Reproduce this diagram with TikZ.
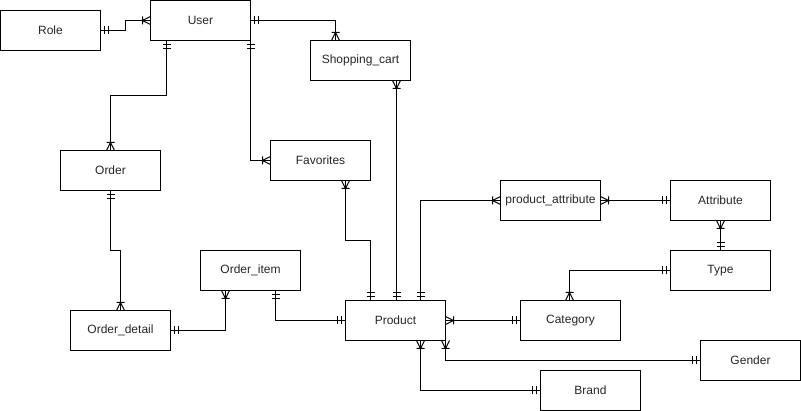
\documentclass[tikz,border=0pt]{standalone}
\usepackage{fontspec}
\setmainfont{Liberation Sans}

% ER end marks: two bars (exactly one) and crow's foot with bar (one or many)
\pgfdeclarearrow{
    name = ERone,
    setup code = {
        \pgfarrowssettipend{0pt}
        \pgfarrowssetlineend{0pt}
        \pgfarrowssetbackend{-9pt}
        \pgfarrowshullpoint{0pt}{4pt}
        \pgfarrowshullpoint{-9pt}{-4pt}
    },
    drawing code = {
        \pgfpathmoveto{\pgfqpoint{-4pt}{-4pt}}
        \pgfpathlineto{\pgfqpoint{-4pt}{4pt}}
        \pgfpathmoveto{\pgfqpoint{-8pt}{-4pt}}
        \pgfpathlineto{\pgfqpoint{-8pt}{4pt}}
        \pgfusepathqstroke
    }
}
\pgfdeclarearrow{
    name = ERmany,
    setup code = {
        \pgfarrowssettipend{0pt}
        \pgfarrowssetlineend{0pt}
        \pgfarrowssetbackend{-9pt}
        \pgfarrowshullpoint{0pt}{4pt}
        \pgfarrowshullpoint{-9pt}{-4pt}
    },
    drawing code = {
        \pgfsetroundjoin
        \pgfpathmoveto{\pgfqpoint{0pt}{4pt}}
        \pgfpathlineto{\pgfqpoint{-8pt}{0pt}}
        \pgfpathlineto{\pgfqpoint{0pt}{-4pt}}
        \pgfpathmoveto{\pgfqpoint{-8pt}{-4pt}}
        \pgfpathlineto{\pgfqpoint{-8pt}{4pt}}
        \pgfusepathqstroke
    }
}

\begin{document}
\begin{tikzpicture}[x = 1pt, y = -1pt,
        entity/.style = {draw, rectangle, line width = 1pt, minimum width = 100pt, minimum height = 40pt,
            inner sep = 0pt, outer sep = 0pt, text = black!85, font = \fontsize{12}{14}\selectfont},
        relation/.style = {line width = 1pt}]
    \useasboundingbox (-0.5,-0.5) rectangle (800.5,410.5);
    \begin{scope}[every node/.append style = {entity}]
        \node (role) at (50,30) {Role};
        \node (user) at (200,20) {User};
        \node (cart) at (360,60) {Shopping\_cart};
        \node (order) at (110,170) {Order};
        \node (fav) at (320,160) {Favorites};
        \node (detail) at (120,330) {Order\_detail};
        \node (item) at (250,270) {Order\_item};
        \node (product) at (395,320) {Product};
        \node (pattr) at (550,200) {product\_attribute};
        \node (attr) at (720,200) {Attribute};
        \node (type) at (720,270) {Type};
        \node (category) at (570,320) {Category};
        \node (gender) at (750,360) {Gender};
        \node (brand) at (590,390) {Brand};
    \end{scope}
    \begin{scope}[relation]
        \draw[ERone-ERmany] (role.east) -- ++(25,0) |- (user.west);
        \draw[ERone-ERmany] (user.east) -| ([xshift=25pt]cart.north west);
        \draw[ERone-ERmany] ([xshift=16pt]user.south west) -- ++(0,55) -| (order.north);
        \draw[ERone-ERmany] (user.south east) |- (fav.west);
        \draw[ERmany-ERone] ([xshift=36pt]cart.south) -- ([xshift=1pt]product.north);
        \draw[ERmany-ERone] ([xshift=25pt]fav.south) -- ++(0,60) -| ([xshift=-25pt]product.north);
        \draw[ERone-ERmany] ([xshift=25pt]product.north) |- (pattr.west);
        \draw[ERmany-ERone] (pattr.east) -- (attr.west);
        \draw[ERmany-ERone] (attr.south) -- (type.north);
        \draw[ERone-ERmany] (type.west) -| ([xshift=-1pt]category.north);
        \draw[ERmany-ERone] (product.east) -- (category.west);
        \draw[ERmany-ERone] (product.south east) |- (gender.west);
        \draw[ERmany-ERone] ([xshift=25pt]product.south) |- (brand.west);
        \draw[ERone-ERmany] (order.south) -- ++(0,60) -| (detail.north);
        \draw[ERone-ERmany] (detail.east) -| ([xshift=-25pt]item.south);
        \draw[ERone-ERone] ([xshift=25pt]item.south) |- (product.west);
    \end{scope}
\end{tikzpicture}
\end{document}
